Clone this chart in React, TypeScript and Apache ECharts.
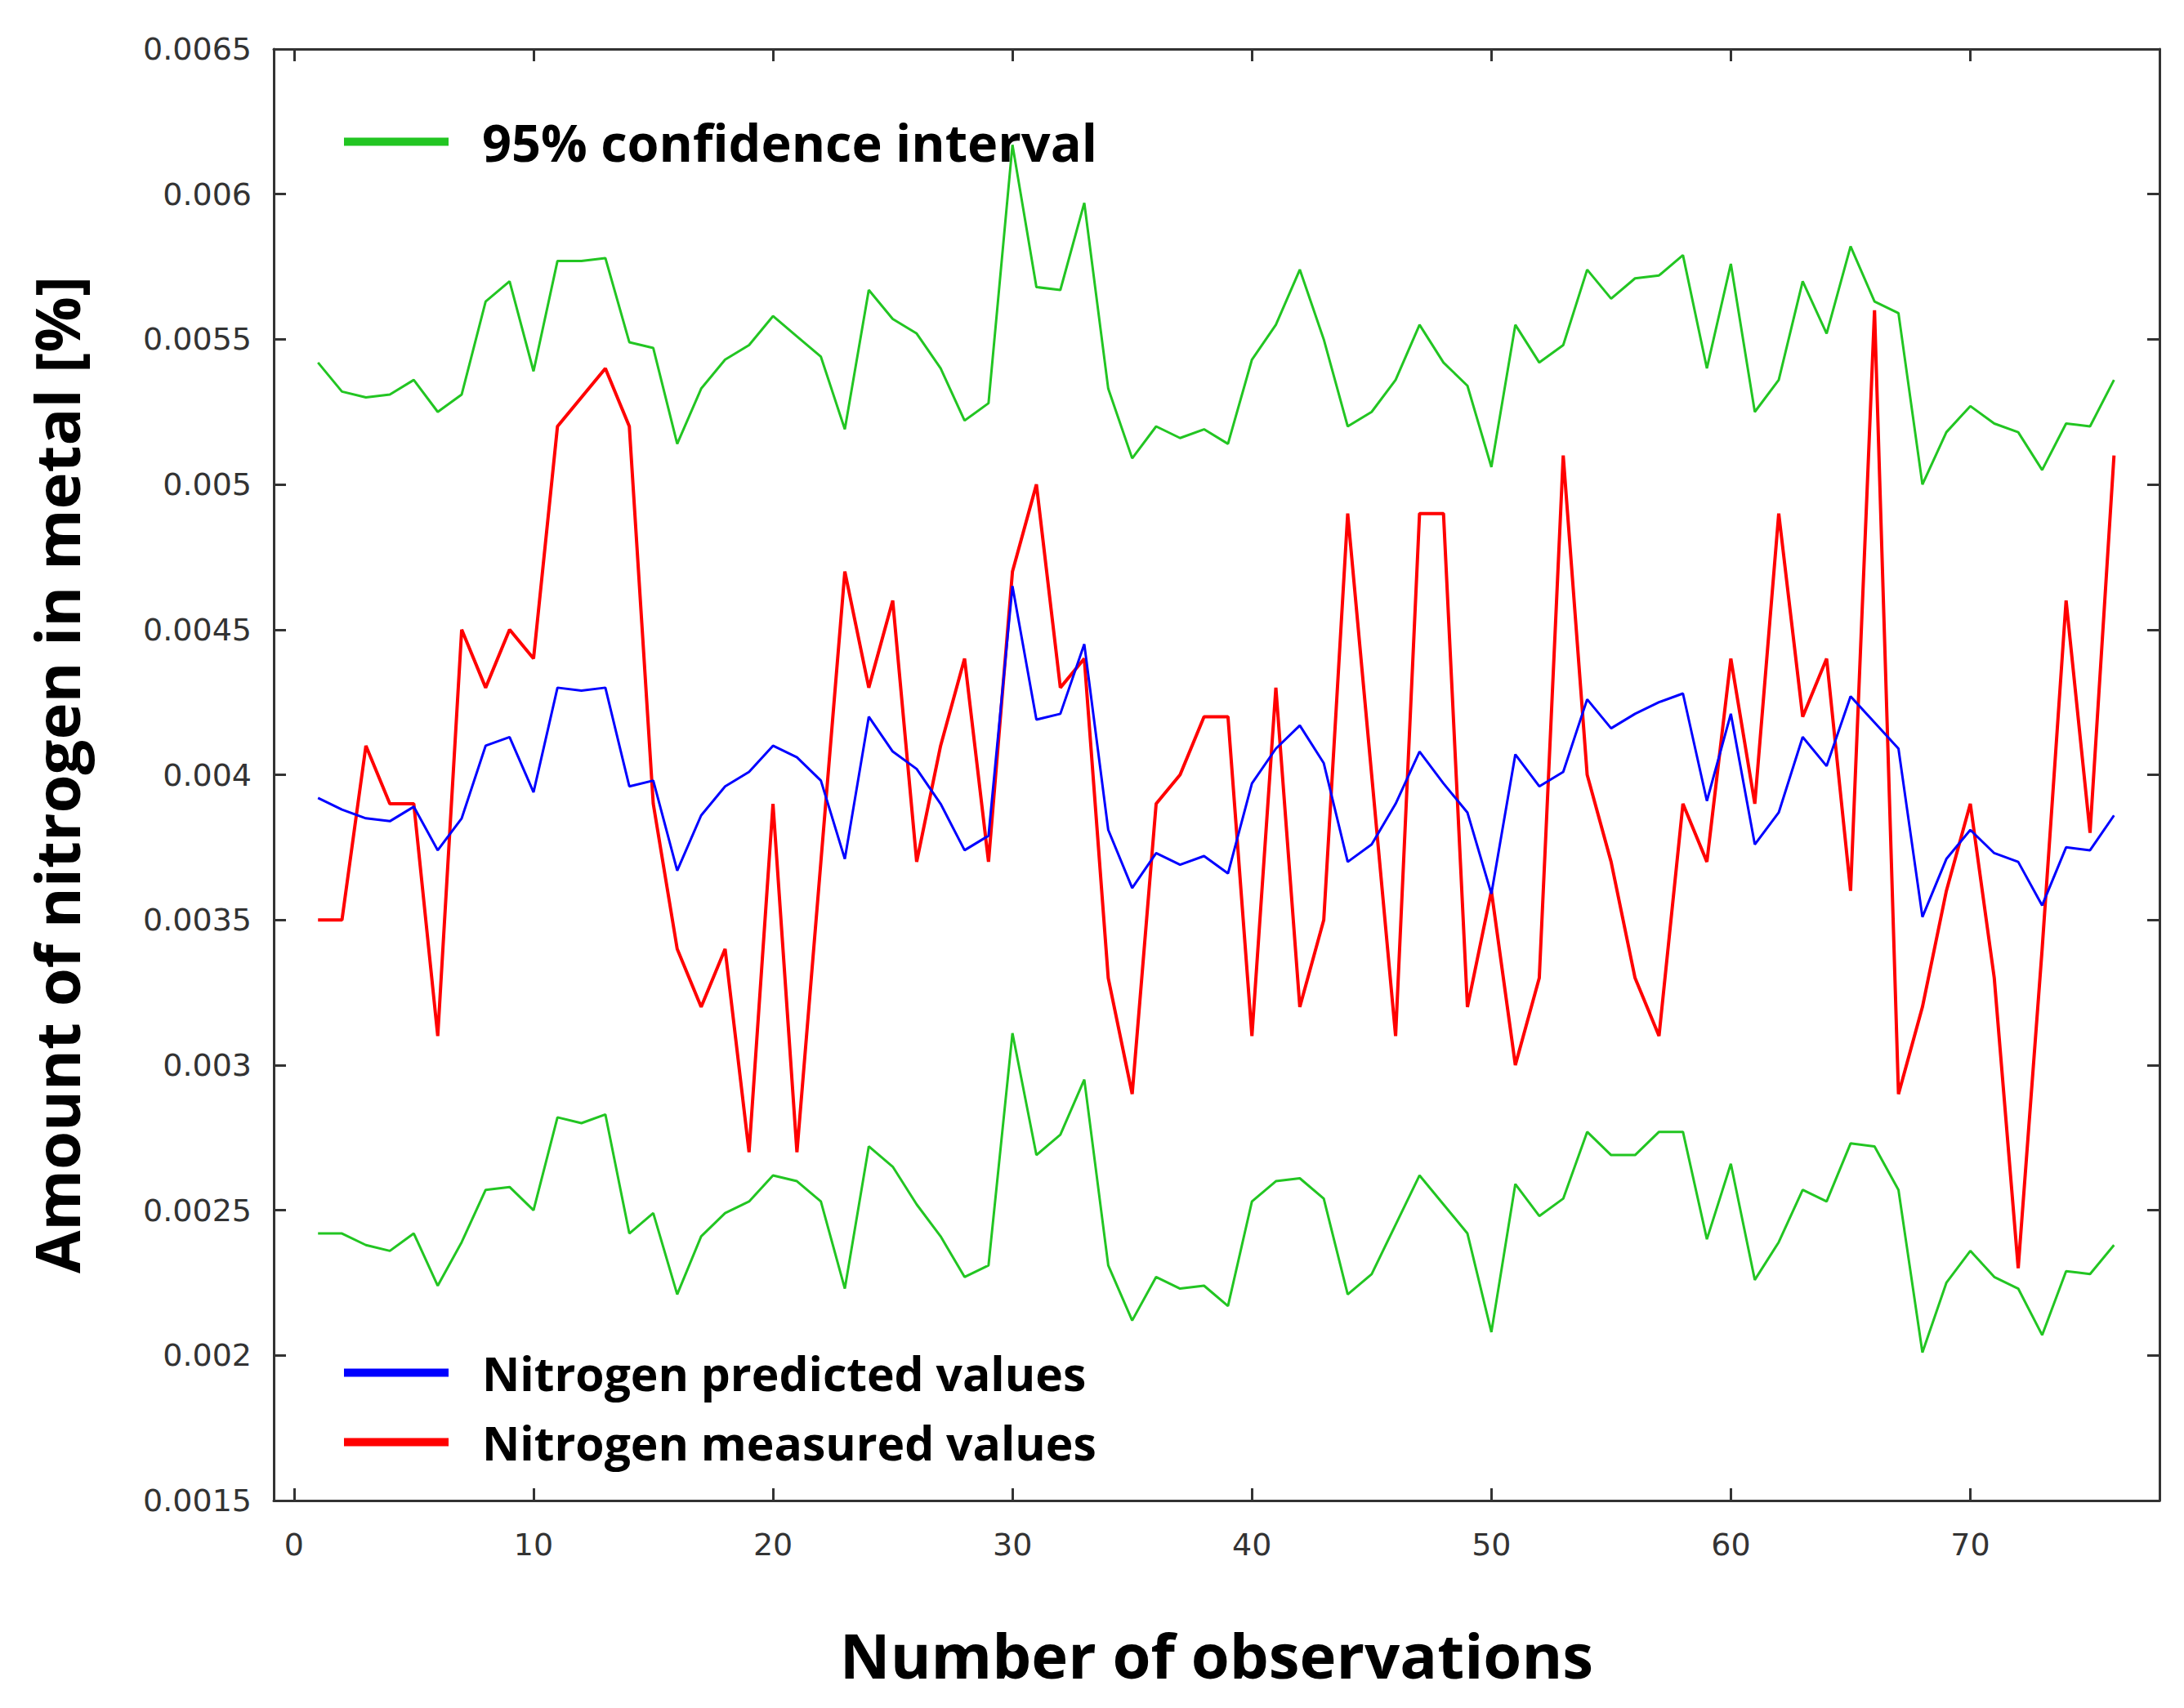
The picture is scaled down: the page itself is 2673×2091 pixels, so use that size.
import React, { useEffect, useRef } from "react";
import * as echarts from "echarts";

// Observation-wise values (observation number = index + 1)
const upperCI = [
  0.00542, 0.00532, 0.0053, 0.00531, 0.00536, 0.00525, 0.00531, 0.00563, 0.0057, 0.00539,
  0.00577, 0.00577, 0.00578, 0.00549, 0.00547, 0.00514, 0.00533, 0.00543, 0.00548, 0.00558,
  0.00551, 0.00544, 0.00519, 0.00567, 0.00557, 0.00552, 0.0054, 0.00522, 0.00528, 0.00617,
  0.00568, 0.00567, 0.00597, 0.00533, 0.00509, 0.0052, 0.00516, 0.00519, 0.00514, 0.00543,
  0.00555, 0.00574, 0.0055, 0.0052, 0.00525, 0.00536, 0.00555, 0.00542, 0.00534, 0.00506,
  0.00555, 0.00542, 0.00548, 0.00574, 0.00564, 0.00571, 0.00572, 0.00579, 0.0054, 0.00576,
  0.00525, 0.00536, 0.0057, 0.00552, 0.00582, 0.00563, 0.00559, 0.005, 0.00518, 0.00527,
  0.00521, 0.00518, 0.00505, 0.00521, 0.0052, 0.00536,
];

const lowerCI = [
  0.00242, 0.00242, 0.00238, 0.00236, 0.00242, 0.00224, 0.00239, 0.00257, 0.00258, 0.0025,
  0.00282, 0.0028, 0.00283, 0.00242, 0.00249, 0.00221, 0.00241, 0.00249, 0.00253, 0.00262,
  0.0026, 0.00253, 0.00223, 0.00272, 0.00265, 0.00252, 0.00241, 0.00227, 0.00231, 0.00311,
  0.00269, 0.00276, 0.00295, 0.00231, 0.00212, 0.00227, 0.00223, 0.00224, 0.00217, 0.00253,
  0.0026, 0.00261, 0.00254, 0.00221, 0.00228, 0.00245, 0.00262, 0.00252, 0.00242, 0.00208,
  0.00259, 0.00248, 0.00254, 0.00277, 0.00269, 0.00269, 0.00277, 0.00277, 0.0024, 0.00266,
  0.00226, 0.00239, 0.00257, 0.00253, 0.00273, 0.00272, 0.00257, 0.00201, 0.00225, 0.00236,
  0.00227, 0.00223, 0.00207, 0.00229, 0.00228, 0.00238,
];

const predicted = [
  0.00392, 0.00388, 0.00385, 0.00384, 0.00389, 0.00374, 0.00385, 0.0041, 0.00413, 0.00394,
  0.0043, 0.00429, 0.0043, 0.00396, 0.00398, 0.00367, 0.00386, 0.00396, 0.00401, 0.0041,
  0.00406, 0.00398, 0.00371, 0.0042, 0.00408, 0.00402, 0.0039, 0.00374, 0.00379, 0.00465,
  0.00419, 0.00421, 0.00445, 0.00381, 0.00361, 0.00373, 0.00369, 0.00372, 0.00366, 0.00397,
  0.00409, 0.00417, 0.00404, 0.0037, 0.00376, 0.0039, 0.00408, 0.00397, 0.00387, 0.00359,
  0.00407, 0.00396, 0.00401, 0.00426, 0.00416, 0.00421, 0.00425, 0.00428, 0.00391, 0.00421,
  0.00376, 0.00387, 0.00413, 0.00403, 0.00427, 0.00418, 0.00409, 0.00351, 0.00371, 0.00381,
  0.00373, 0.0037, 0.00355, 0.00375, 0.00374, 0.00386,
];

const measured = [
  0.0035, 0.0035, 0.0041, 0.0039, 0.0039, 0.0031, 0.0045, 0.0043, 0.0045, 0.0044,
  0.0052, 0.0053, 0.0054, 0.0052, 0.0039, 0.0034, 0.0032, 0.0034, 0.0027, 0.0039,
  0.0027, 0.0037, 0.0047, 0.0043, 0.0046, 0.0037, 0.0041, 0.0044, 0.0037, 0.0047,
  0.005, 0.0043, 0.0044, 0.0033, 0.0029, 0.0039, 0.004, 0.0042, 0.0042, 0.0031,
  0.0043, 0.0032, 0.0035, 0.0049, 0.004, 0.0031, 0.0049, 0.0049, 0.0032, 0.0036,
  0.003, 0.0033, 0.0051, 0.004, 0.0037, 0.0033, 0.0031, 0.0039, 0.0037, 0.0044,
  0.0039, 0.0049, 0.0042, 0.0044, 0.0036, 0.0056, 0.0029, 0.0032, 0.0036, 0.0039,
  0.0033, 0.0023, 0.0034, 0.0046, 0.0038, 0.0051,
];

const xTicks = [0, 10, 20, 30, 40, 50, 60, 70];
const yTicks = [0.0015, 0.002, 0.0025, 0.003, 0.0035, 0.004, 0.0045, 0.005, 0.0055, 0.006, 0.0065];

const CI_NAME = "95% confidence interval";
const PRED_NAME = "Nitrogen predicted values";
const MEAS_NAME = "Nitrogen measured values";

const toPairs = (vals: number[]) => vals.map((v, i) => [i + 1, v]);

export default function App() {
  const ref = useRef<HTMLDivElement | null>(null);

  useEffect(() => {
    if (!ref.current) return;
    const chart = echarts.init(ref.current, null, { renderer: "svg" });

    const green = "#22c522";
    const blue = "#0000ff";
    const red = "#ff0000";
    const axisLineStyle = { color: "#333333", width: 3 };
    const tickFont = { fontFamily: "DejaVu Sans", fontSize: 38, color: "#333333" };
    const titleFont = { fontFamily: "Open Sans", fontWeight: "bold" as const, fontSize: 76, color: "#000000" };
    const legendTextTop = {
      fontFamily: "Open Sans",
      fontWeight: "bold" as const,
      fontSize: 63,
      color: "#000000",
      lineHeight: 65,
      padding: [0, 0, 0, 36],
    };
    const legendTextBottom = {
      fontFamily: "Open Sans",
      fontWeight: "bold" as const,
      fontSize: 57,
      color: "#000000",
      lineHeight: 65,
      padding: [0, 0, 0, 36],
    };
    const xMin = -0.85;
    const xMax = 77.9;
    const yMin = 0.0015;
    const yMax = 0.0065;

    const option = {
      animation: false,
      backgroundColor: "#ffffff",
      grid: { left: 335, right: 30, top: 60, bottom: 254, containLabel: false },
      xAxis: [
        {
          type: "value",
          position: "bottom",
          min: xMin,
          max: xMax,
          axisLine: { show: true, onZero: false, lineStyle: axisLineStyle },
          axisTick: { show: true, inside: true, length: 15, lineStyle: axisLineStyle, customValues: xTicks },
          axisLabel: { show: true, customValues: xTicks, margin: 35, ...tickFont },
          splitLine: { show: false },
          name: "Number of observations",
          nameLocation: "middle",
          nameGap: 150,
          nameTextStyle: titleFont,
        },
        {
          type: "value",
          position: "top",
          min: xMin,
          max: xMax,
          axisLine: { show: true, onZero: false, lineStyle: axisLineStyle },
          axisTick: { show: true, inside: true, length: 15, lineStyle: axisLineStyle, customValues: xTicks },
          axisLabel: { show: false },
          splitLine: { show: false },
        },
      ],
      yAxis: [
        {
          type: "value",
          position: "left",
          min: yMin,
          max: yMax,
          axisLine: { show: true, onZero: false, lineStyle: axisLineStyle },
          axisTick: { show: true, inside: true, length: 15, lineStyle: axisLineStyle, customValues: yTicks },
          axisLabel: {
            show: true,
            customValues: yTicks,
            margin: 27,
            formatter: (v: number) => String(parseFloat(v.toFixed(4))),
            ...tickFont,
          },
          splitLine: { show: false },
          name: "Amount of nitrogen in metal [%]",
          nameLocation: "middle",
          nameGap: 229,
          nameTextStyle: titleFont,
        },
        {
          type: "value",
          position: "right",
          min: yMin,
          max: yMax,
          axisLine: { show: true, onZero: false, lineStyle: axisLineStyle },
          axisTick: { show: true, inside: true, length: 15, lineStyle: axisLineStyle, customValues: yTicks },
          axisLabel: { show: false },
          splitLine: { show: false },
        },
      ],
      legend: [
        {
          data: [CI_NAME],
          orient: "vertical",
          left: 421,
          top: 141,
          padding: 0,
          icon: "rect",
          itemWidth: 128,
          itemHeight: 10,
          selectedMode: false,
          textStyle: legendTextTop,
        },
        {
          data: [PRED_NAME, MEAS_NAME],
          orient: "vertical",
          left: 421,
          top: 1648,
          padding: 0,
          itemGap: 20,
          icon: "rect",
          itemWidth: 128,
          itemHeight: 10,
          selectedMode: false,
          textStyle: legendTextBottom,
        },
      ],
      series: [
        {
          name: CI_NAME,
          type: "line",
          data: toPairs(upperCI),
          showSymbol: false,
          symbol: "none",
          lineStyle: { color: green, width: 3 },
          itemStyle: { color: green },
        },
        {
          name: CI_NAME,
          type: "line",
          data: toPairs(lowerCI),
          showSymbol: false,
          symbol: "none",
          lineStyle: { color: green, width: 3 },
          itemStyle: { color: green },
        },
        {
          name: MEAS_NAME,
          type: "line",
          data: toPairs(measured),
          showSymbol: false,
          symbol: "none",
          lineStyle: { color: red, width: 4 },
          itemStyle: { color: red },
        },
        {
          name: PRED_NAME,
          type: "line",
          data: toPairs(predicted),
          showSymbol: false,
          symbol: "none",
          lineStyle: { color: blue, width: 3 },
          itemStyle: { color: blue },
        },
      ],
    };

    chart.setOption(option as any);
    return () => {
      chart.dispose();
    };
  }, []);

  return (
    <div
      ref={ref}
      style={{ position: "absolute", left: 0, top: 0, width: 2673, height: 2091, background: "#fff" }}
    />
  );
}
